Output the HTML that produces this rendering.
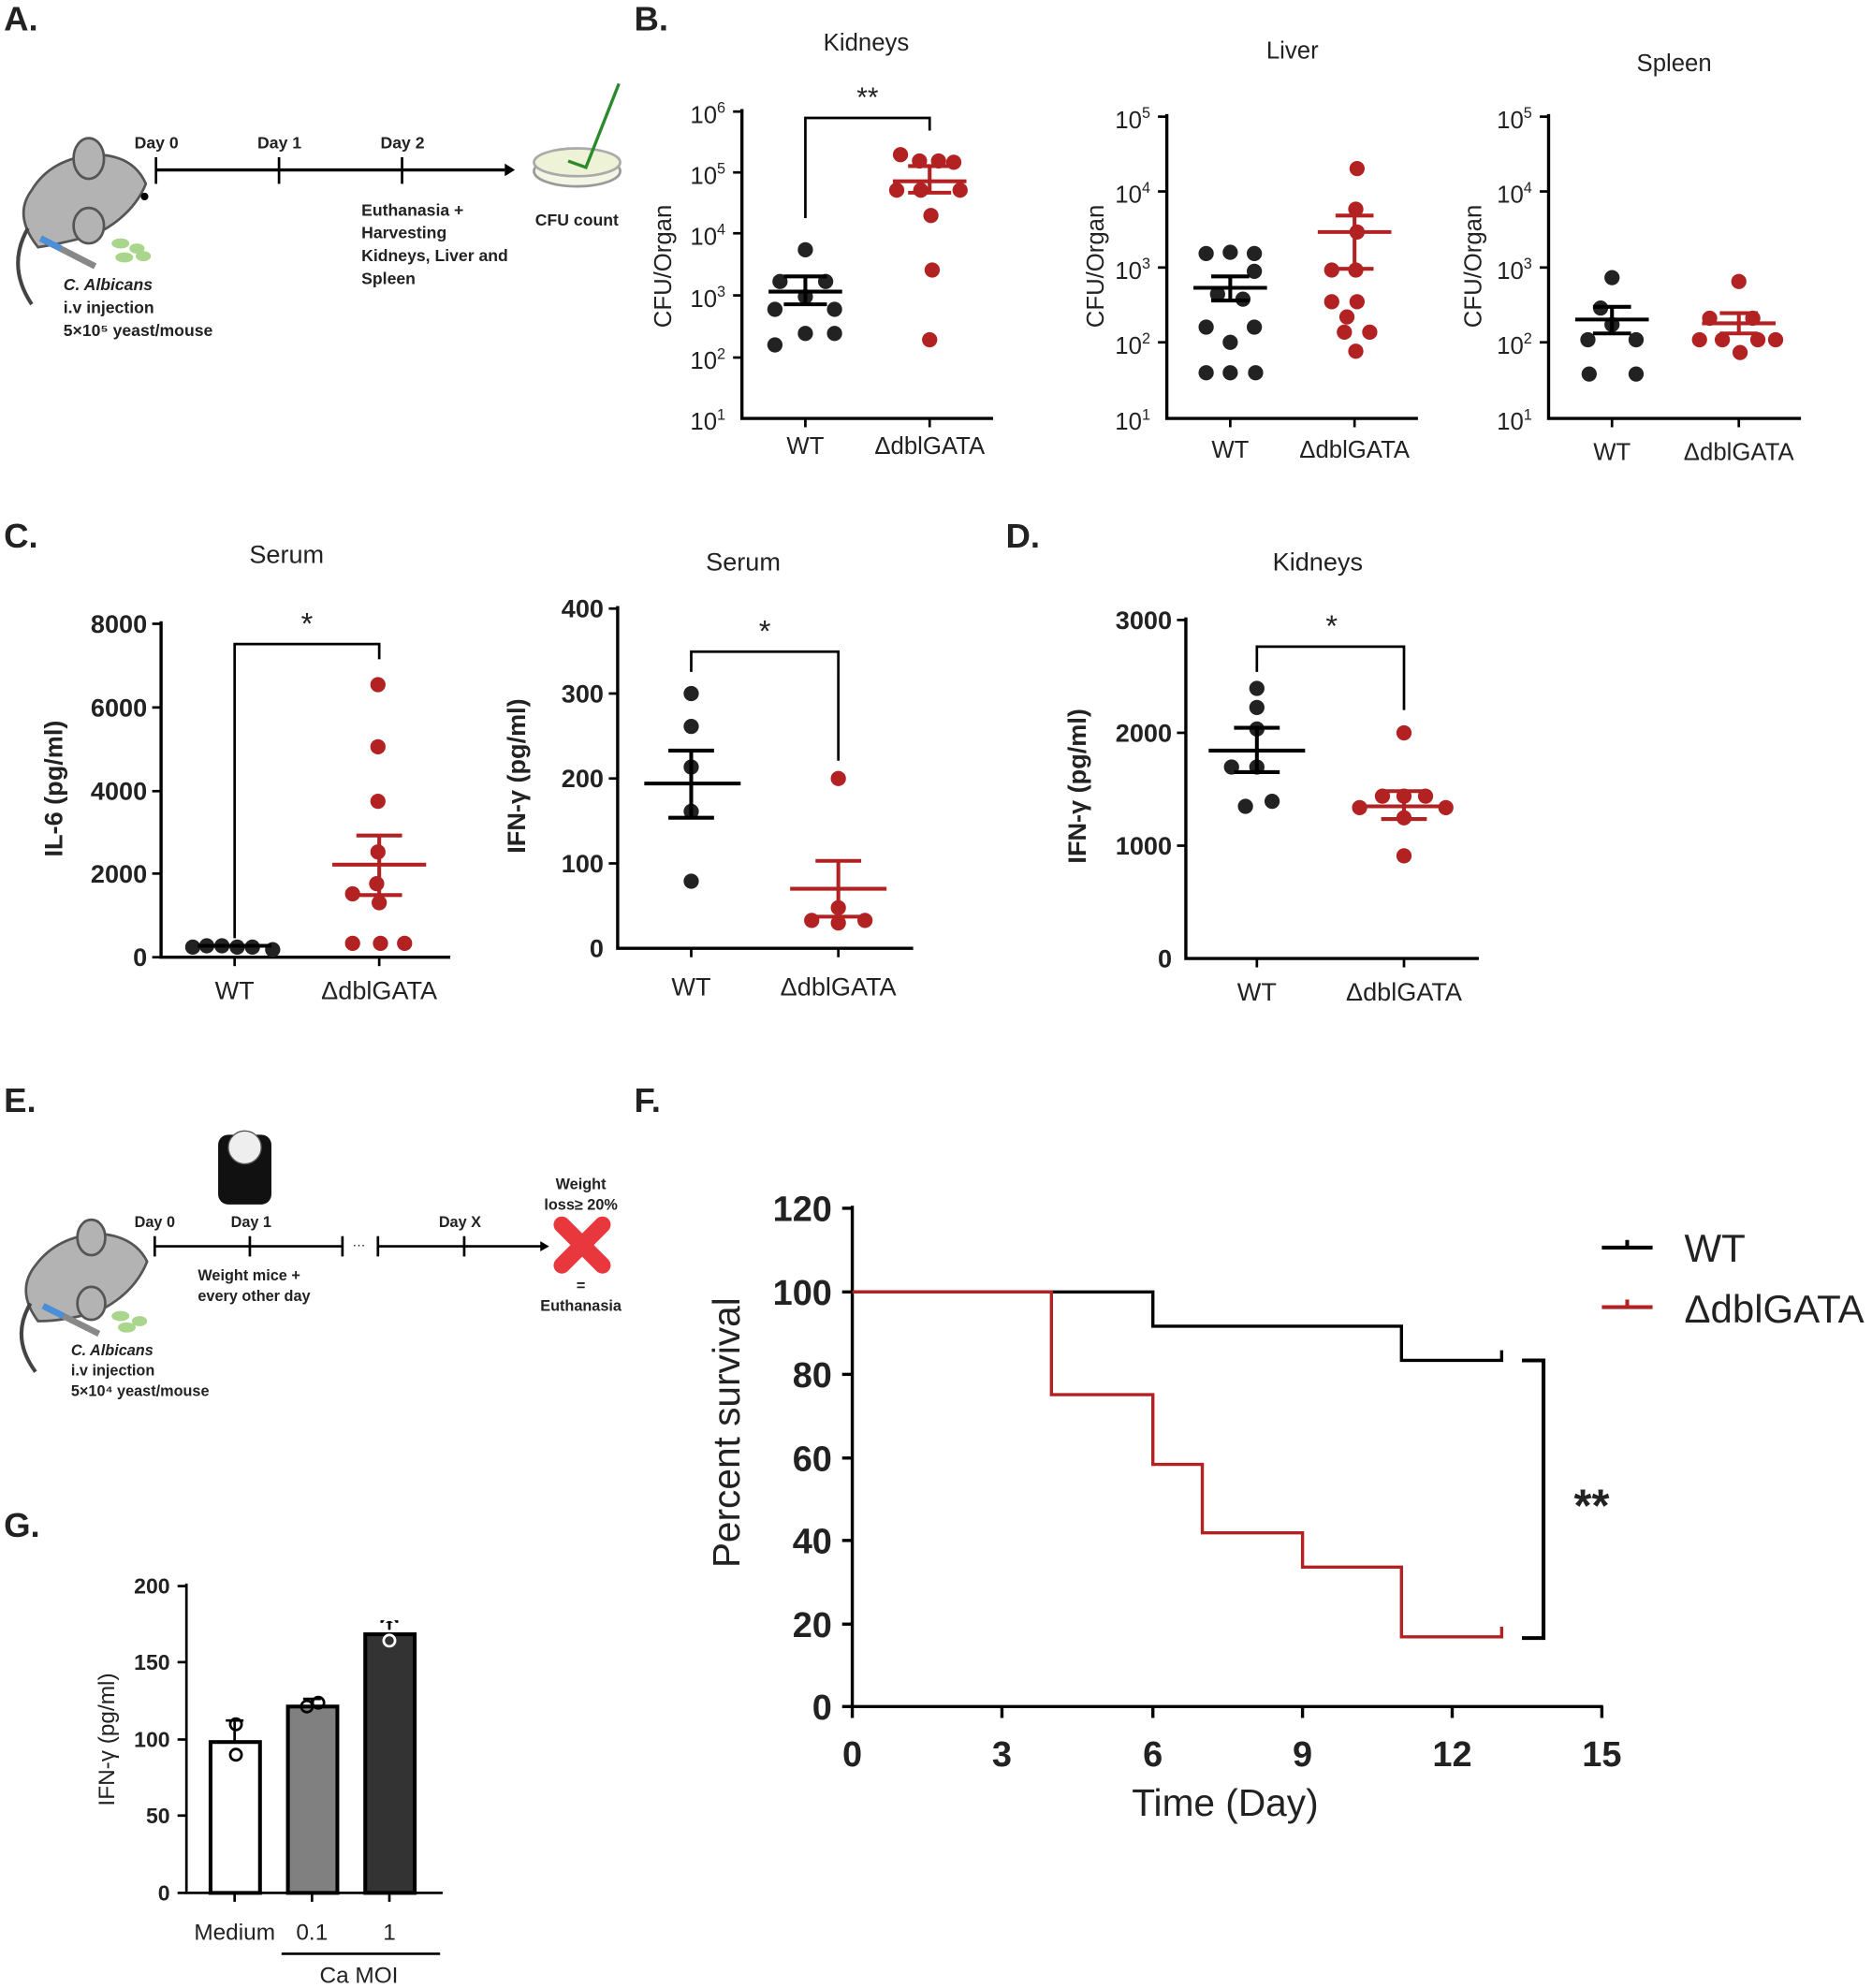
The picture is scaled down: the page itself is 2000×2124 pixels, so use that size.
<!DOCTYPE html>
<html><head><meta charset="utf-8"><style>html,body{margin:0;padding:0;background:#fff}svg{display:block}</style></head>
<body>
<svg width="2000" height="2124" viewBox="0 0 1476 1568" preserveAspectRatio="none" xmlns="http://www.w3.org/2000/svg" font-family="Liberation Sans, DejaVu Sans, sans-serif">
<defs>
<g id="d"><circle r="6"/></g>
</defs>
<g font-weight="bold" font-size="27" fill="#222">
<text x="3" y="24">A.</text><text x="500" y="24">B.</text><text x="3" y="432">C.</text><text x="793" y="432">D.</text>
<text x="3" y="877">E.</text><text x="500" y="877">F.</text><text x="3" y="1212">G.</text>
</g>

<!-- Panel A diagram -->
<g>
<path d="M30 195 Q10 170 25 150 Q40 125 75 122 Q105 122 115 145 Q105 170 75 185 Q50 192 30 195Z" fill="#b3b3b3" stroke="#555" stroke-width="2"/>
<ellipse cx="70" cy="125" rx="12" ry="16" fill="#b3b3b3" stroke="#555" stroke-width="2"/>
<ellipse cx="70" cy="178" rx="12" ry="14" fill="#b3b3b3" stroke="#555" stroke-width="2"/>
<circle cx="114" cy="155" r="3"/>
<path d="M22 180 Q5 210 25 240" stroke="#444" stroke-width="3" fill="none"/>
<line x1="32" y1="188" x2="75" y2="210" stroke="#888" stroke-width="5"/>
<line x1="32" y1="188" x2="48" y2="196" stroke="#4a8fd8" stroke-width="5"/>
<g fill="#a9d68c"><ellipse cx="95" cy="192" rx="7" ry="4"/><ellipse cx="108" cy="196" rx="6" ry="4"/><ellipse cx="98" cy="203" rx="7" ry="4"/><ellipse cx="113" cy="202" rx="6" ry="4"/></g>
<line x1="123" y1="134" x2="398" y2="134" stroke="#000" stroke-width="2.5"/>
<path d="M398 129 L406 134 L398 139Z"/>
<g stroke="#000" stroke-width="2"><line x1="123" y1="124" x2="123" y2="145"/><line x1="220" y1="124" x2="220" y2="145"/><line x1="317" y1="124" x2="317" y2="145"/></g>
<g font-size="13" font-weight="bold" fill="#222"><text x="106" y="117">Day 0</text><text x="203" y="117">Day 1</text><text x="300" y="117">Day 2</text>
<text x="285" y="170">Euthanasia +</text><text x="285" y="188">Harvesting</text><text x="285" y="206">Kidneys, Liver and</text><text x="285" y="224">Spleen</text>
<text x="422" y="178">CFU count</text>
<text x="50" y="229" font-style="italic">C. Albicans</text><text x="50" y="247">i.v injection</text><text x="50" y="265">5×10⁵ yeast/mouse</text></g>
<ellipse cx="455" cy="135" rx="34" ry="12" fill="#f3f6e4" stroke="#999" stroke-width="2"/>
<ellipse cx="455" cy="128" rx="34" ry="11" fill="#eef3d8" stroke="#aaa" stroke-width="2"/>
<path d="M488 66 L462 132 L448 127" stroke="#2c8a2c" stroke-width="2.5" fill="none"/>
</g>

<!-- Panel B Kidneys -->
<g font-size="19" fill="#222">
<text x="683" y="40" text-anchor="middle">Kidneys</text>
<path d="M585 86 V330 H783" stroke="#000" stroke-width="2.5" fill="none"/>
<g stroke="#000" stroke-width="2"><line x1="578" y1="88" x2="585" y2="88"/><line x1="578" y1="136" x2="585" y2="136"/><line x1="578" y1="184" x2="585" y2="184"/><line x1="578" y1="233" x2="585" y2="233"/><line x1="578" y1="282" x2="585" y2="282"/><line x1="635" y1="330" x2="635" y2="337"/><line x1="733" y1="330" x2="733" y2="337"/></g>
<g text-anchor="end"><text x="572" y="97">10<tspan dy="-8" font-size="12">6</tspan></text><text x="572" y="145">10<tspan dy="-8" font-size="12">5</tspan></text><text x="572" y="193">10<tspan dy="-8" font-size="12">4</tspan></text><text x="572" y="242">10<tspan dy="-8" font-size="12">3</tspan></text><text x="572" y="291">10<tspan dy="-8" font-size="12">2</tspan></text><text x="572" y="339">10<tspan dy="-8" font-size="12">1</tspan></text></g>
<text transform="translate(529,210) rotate(-90)" text-anchor="middle">CFU/Organ</text>
<text x="635" y="358" text-anchor="middle">WT</text><text x="733" y="358" text-anchor="middle">ΔdblGATA</text>
<path d="M635 172 V93 H733 V103" stroke="#000" stroke-width="2" fill="none"/>
<text x="684" y="84" text-anchor="middle" font-size="22">**</text>
<g><circle cx="635" cy="197" r="6"/><circle cx="615" cy="222" r="6"/><circle cx="651" cy="222" r="6"/><circle cx="635" cy="234" r="6"/><circle cx="611" cy="244" r="6"/><circle cx="658" cy="244" r="6"/><circle cx="611" cy="272" r="6"/><circle cx="635" cy="263" r="6"/><circle cx="658" cy="263" r="6"/></g>
<g stroke="#000" stroke-width="3"><line x1="606" y1="230" x2="664" y2="230"/><line x1="618" y1="218" x2="652" y2="218"/><line x1="618" y1="240" x2="652" y2="240"/><line x1="635" y1="218" x2="635" y2="240"/></g>
<g fill="#b22222"><circle cx="710" cy="122" r="6"/><circle cx="725" cy="127" r="6"/><circle cx="740" cy="127" r="6"/><circle cx="757" cy="150" r="6"/><circle cx="707" cy="150" r="6"/><circle cx="726" cy="150" r="6"/><circle cx="734" cy="170" r="6"/><circle cx="735" cy="213" r="6"/><circle cx="733" cy="268" r="6"/><circle cx="752" cy="128" r="6"/></g>
<g stroke="#b22222" stroke-width="3"><line x1="704" y1="143" x2="762" y2="143"/><line x1="716" y1="131" x2="750" y2="131"/><line x1="716" y1="152" x2="750" y2="152"/><line x1="733" y1="131" x2="733" y2="152"/></g>
</g>

<!-- Liver -->
<g font-size="19" fill="#222">
<text x="1019" y="46" text-anchor="middle">Liver</text>
<path d="M920 90 V330 H1118" stroke="#000" stroke-width="2.5" fill="none"/>
<g stroke="#000" stroke-width="2"><line x1="913" y1="92" x2="920" y2="92"/><line x1="913" y1="151" x2="920" y2="151"/><line x1="913" y1="211" x2="920" y2="211"/><line x1="913" y1="270" x2="920" y2="270"/><line x1="970" y1="330" x2="970" y2="337"/><line x1="1068" y1="330" x2="1068" y2="337"/></g>
<g text-anchor="end"><text x="907" y="101">10<tspan dy="-8" font-size="12">5</tspan></text><text x="907" y="160">10<tspan dy="-8" font-size="12">4</tspan></text><text x="907" y="220">10<tspan dy="-8" font-size="12">3</tspan></text><text x="907" y="279">10<tspan dy="-8" font-size="12">2</tspan></text><text x="907" y="339">10<tspan dy="-8" font-size="12">1</tspan></text></g>
<text transform="translate(870,210) rotate(-90)" text-anchor="middle">CFU/Organ</text>
<text x="970" y="361" text-anchor="middle">WT</text><text x="1068" y="361" text-anchor="middle">ΔdblGATA</text>
<g><circle cx="951" cy="200" r="6"/><circle cx="970" cy="199" r="6"/><circle cx="989" cy="200" r="6"/><circle cx="960" cy="232" r="6"/><circle cx="980" cy="236" r="6"/><circle cx="989" cy="214" r="6"/><circle cx="951" cy="258" r="6"/><circle cx="989" cy="258" r="6"/><circle cx="970" cy="270" r="6"/><circle cx="951" cy="294" r="6"/><circle cx="970" cy="294" r="6"/><circle cx="990" cy="294" r="6"/></g>
<g stroke="#000" stroke-width="3"><line x1="941" y1="227" x2="999" y2="227"/><line x1="955" y1="218" x2="985" y2="218"/><line x1="955" y1="237" x2="985" y2="237"/><line x1="970" y1="218" x2="970" y2="237"/></g>
<g fill="#b22222"><circle cx="1070" cy="133" r="6"/><circle cx="1069" cy="165" r="6"/><circle cx="1070" cy="183" r="6"/><circle cx="1050" cy="213" r="6"/><circle cx="1069" cy="213" r="6"/><circle cx="1050" cy="238" r="6"/><circle cx="1070" cy="238" r="6"/><circle cx="1062" cy="250" r="6"/><circle cx="1060" cy="262" r="6"/><circle cx="1080" cy="262" r="6"/><circle cx="1069" cy="277" r="6"/></g>
<g stroke="#b22222" stroke-width="3"><line x1="1039" y1="183" x2="1097" y2="183"/><line x1="1053" y1="170" x2="1083" y2="170"/><line x1="1053" y1="212" x2="1083" y2="212"/><line x1="1068" y1="170" x2="1068" y2="212"/></g>
</g>

<!-- Spleen -->
<g font-size="19" fill="#222">
<text x="1320" y="56" text-anchor="middle">Spleen</text>
<path d="M1221 90 V330 H1420" stroke="#000" stroke-width="2.5" fill="none"/>
<g stroke="#000" stroke-width="2"><line x1="1214" y1="92" x2="1221" y2="92"/><line x1="1214" y1="151" x2="1221" y2="151"/><line x1="1214" y1="211" x2="1221" y2="211"/><line x1="1214" y1="270" x2="1221" y2="270"/><line x1="1271" y1="330" x2="1271" y2="337"/><line x1="1371" y1="330" x2="1371" y2="337"/></g>
<g text-anchor="end"><text x="1208" y="101">10<tspan dy="-8" font-size="12">5</tspan></text><text x="1208" y="160">10<tspan dy="-8" font-size="12">4</tspan></text><text x="1208" y="220">10<tspan dy="-8" font-size="12">3</tspan></text><text x="1208" y="279">10<tspan dy="-8" font-size="12">2</tspan></text><text x="1208" y="339">10<tspan dy="-8" font-size="12">1</tspan></text></g>
<text transform="translate(1168,210) rotate(-90)" text-anchor="middle">CFU/Organ</text>
<text x="1271" y="363" text-anchor="middle">WT</text><text x="1371" y="363" text-anchor="middle">ΔdblGATA</text>
<g><circle cx="1271" cy="219" r="6"/><circle cx="1262" cy="243" r="6"/><circle cx="1271" cy="256" r="6"/><circle cx="1252" cy="268" r="6"/><circle cx="1290" cy="268" r="6"/><circle cx="1253" cy="295" r="6"/><circle cx="1290" cy="295" r="6"/></g>
<g stroke="#000" stroke-width="3"><line x1="1242" y1="252" x2="1300" y2="252"/><line x1="1256" y1="242" x2="1286" y2="242"/><line x1="1256" y1="263" x2="1286" y2="263"/><line x1="1271" y1="242" x2="1271" y2="263"/></g>
<g fill="#b22222"><circle cx="1371" cy="222" r="6"/><circle cx="1348" cy="251" r="6"/><circle cx="1382" cy="251" r="6"/><circle cx="1340" cy="268" r="6"/><circle cx="1358" cy="268" r="6"/><circle cx="1386" cy="268" r="6"/><circle cx="1400" cy="268" r="6"/><circle cx="1372" cy="278" r="6"/></g>
<g stroke="#b22222" stroke-width="3"><line x1="1342" y1="255" x2="1400" y2="255"/><line x1="1356" y1="247" x2="1386" y2="247"/><line x1="1356" y1="263" x2="1386" y2="263"/><line x1="1371" y1="247" x2="1371" y2="263"/></g>
</g>

<!-- C IL-6 -->
<g font-size="20" fill="#222">
<text x="226" y="444" text-anchor="middle">Serum</text>
<path d="M127 490 V755 H355" stroke="#000" stroke-width="2.5" fill="none"/>
<g stroke="#000" stroke-width="2"><line x1="120" y1="492" x2="127" y2="492"/><line x1="120" y1="558" x2="127" y2="558"/><line x1="120" y1="624" x2="127" y2="624"/><line x1="120" y1="689" x2="127" y2="689"/><line x1="120" y1="755" x2="127" y2="755"/><line x1="185" y1="755" x2="185" y2="762"/><line x1="299" y1="755" x2="299" y2="762"/></g>
<g text-anchor="end" font-weight="bold"><text x="116" y="499">8000</text><text x="116" y="565">6000</text><text x="116" y="631">4000</text><text x="116" y="696">2000</text><text x="116" y="762">0</text></g>
<text transform="translate(49,622) rotate(-90)" text-anchor="middle" font-weight="bold">IL-6 (pg/ml)</text>
<text x="185" y="788" text-anchor="middle">WT</text><text x="299" y="788" text-anchor="middle">ΔdblGATA</text>
<path d="M185 740 V508 H299 V520" stroke="#000" stroke-width="2" fill="none"/>
<text x="242" y="500" text-anchor="middle" font-size="24">*</text>
<g><circle cx="152" cy="747" r="6"/><circle cx="163" cy="746" r="6"/><circle cx="175" cy="746" r="6"/><circle cx="187" cy="747" r="6"/><circle cx="199" cy="747" r="6"/><circle cx="215" cy="749" r="6"/></g>
<line x1="156" y1="746" x2="214" y2="746" stroke="#000" stroke-width="3"/>
<g fill="#b22222"><circle cx="298" cy="540" r="6"/><circle cx="298" cy="589" r="6"/><circle cx="298" cy="632" r="6"/><circle cx="298" cy="672" r="6"/><circle cx="297" cy="697" r="6"/><circle cx="278" cy="705" r="6"/><circle cx="299" cy="712" r="6"/><circle cx="278" cy="744" r="6"/><circle cx="300" cy="744" r="6"/><circle cx="319" cy="744" r="6"/></g>
<g stroke="#b22222" stroke-width="3"><line x1="262" y1="682" x2="336" y2="682"/><line x1="281" y1="659" x2="317" y2="659"/><line x1="281" y1="706" x2="317" y2="706"/><line x1="299" y1="659" x2="299" y2="706"/></g>
</g>

<!-- C IFN serum -->
<g font-size="20" fill="#222">
<text x="586" y="450" text-anchor="middle">Serum</text>
<path d="M487 478 V748 H720" stroke="#000" stroke-width="2.5" fill="none"/>
<g stroke="#000" stroke-width="2"><line x1="480" y1="480" x2="487" y2="480"/><line x1="480" y1="547" x2="487" y2="547"/><line x1="480" y1="614" x2="487" y2="614"/><line x1="480" y1="681" x2="487" y2="681"/><line x1="545" y1="748" x2="545" y2="755"/><line x1="661" y1="748" x2="661" y2="755"/></g>
<g text-anchor="end" font-weight="bold"><text x="476" y="487">400</text><text x="476" y="554">300</text><text x="476" y="621">200</text><text x="476" y="688">100</text><text x="476" y="755">0</text></g>
<text transform="translate(414,612) rotate(-90)" text-anchor="middle" font-weight="bold">IFN-γ (pg/ml)</text>
<text x="545" y="785" text-anchor="middle">WT</text><text x="661" y="785" text-anchor="middle">ΔdblGATA</text>
<path d="M545 530 V514 H661 V600" stroke="#000" stroke-width="2" fill="none"/>
<text x="603" y="506" text-anchor="middle" font-size="24">*</text>
<g><circle cx="545" cy="547" r="6"/><circle cx="545" cy="573" r="6"/><circle cx="545" cy="605" r="6"/><circle cx="545" cy="640" r="6"/><circle cx="545" cy="695" r="6"/></g>
<g stroke="#000" stroke-width="3"><line x1="508" y1="618" x2="584" y2="618"/><line x1="527" y1="592" x2="563" y2="592"/><line x1="527" y1="645" x2="563" y2="645"/><line x1="545" y1="592" x2="545" y2="645"/></g>
<g fill="#b22222"><circle cx="661" cy="614" r="6"/><circle cx="640" cy="726" r="6"/><circle cx="661" cy="716" r="6"/><circle cx="682" cy="726" r="6"/><circle cx="661" cy="728" r="6"/></g>
<g stroke="#b22222" stroke-width="3"><line x1="623" y1="701" x2="699" y2="701"/><line x1="643" y1="679" x2="679" y2="679"/><line x1="643" y1="723" x2="679" y2="723"/><line x1="661" y1="679" x2="661" y2="723"/></g>
</g>

<!-- D -->
<g font-size="20" fill="#222">
<text x="1039" y="450" text-anchor="middle">Kidneys</text>
<path d="M935 487 V756 H1166" stroke="#000" stroke-width="2.5" fill="none"/>
<g stroke="#000" stroke-width="2"><line x1="928" y1="489" x2="935" y2="489"/><line x1="928" y1="578" x2="935" y2="578"/><line x1="928" y1="667" x2="935" y2="667"/><line x1="991" y1="756" x2="991" y2="763"/><line x1="1107" y1="756" x2="1107" y2="763"/></g>
<g text-anchor="end" font-weight="bold"><text x="924" y="496">3000</text><text x="924" y="585">2000</text><text x="924" y="674">1000</text><text x="924" y="763">0</text></g>
<text transform="translate(856,620) rotate(-90)" text-anchor="middle" font-weight="bold">IFN-γ (pg/ml)</text>
<text x="991" y="789" text-anchor="middle">WT</text><text x="1107" y="789" text-anchor="middle">ΔdblGATA</text>
<path d="M991 530 V510 H1107 V560" stroke="#000" stroke-width="2" fill="none"/>
<text x="1050" y="502" text-anchor="middle" font-size="24">*</text>
<g><circle cx="991" cy="543" r="6"/><circle cx="991" cy="558" r="6"/><circle cx="971" cy="605" r="6"/><circle cx="991" cy="605" r="6"/><circle cx="982" cy="636" r="6"/><circle cx="1003" cy="632" r="6"/><circle cx="991" cy="575" r="6"/></g>
<g stroke="#000" stroke-width="3"><line x1="953" y1="592" x2="1029" y2="592"/><line x1="973" y1="574" x2="1009" y2="574"/><line x1="973" y1="609" x2="1009" y2="609"/><line x1="991" y1="574" x2="991" y2="609"/></g>
<g fill="#b22222"><circle cx="1107" cy="578" r="6"/><circle cx="1090" cy="628" r="6"/><circle cx="1107" cy="628" r="6"/><circle cx="1124" cy="628" r="6"/><circle cx="1072" cy="637" r="6"/><circle cx="1140" cy="637" r="6"/><circle cx="1107" cy="645" r="6"/><circle cx="1107" cy="675" r="6"/></g>
<g stroke="#b22222" stroke-width="3"><line x1="1069" y1="636" x2="1145" y2="636"/><line x1="1089" y1="624" x2="1125" y2="624"/><line x1="1089" y1="646" x2="1125" y2="646"/><line x1="1107" y1="624" x2="1107" y2="646"/></g>
</g>

<!-- E diagram -->
<g>
<path d="M30 1042 Q12 1018 28 998 Q45 975 78 973 Q106 975 116 995 Q106 1020 78 1034 Q52 1042 30 1042Z" fill="#b3b3b3" stroke="#555" stroke-width="2"/>
<ellipse cx="72" cy="976" rx="11" ry="14" fill="#b3b3b3" stroke="#555" stroke-width="2"/>
<ellipse cx="72" cy="1028" rx="11" ry="13" fill="#b3b3b3" stroke="#555" stroke-width="2"/>
<path d="M24 1028 Q8 1055 28 1082" stroke="#444" stroke-width="3" fill="none"/>
<line x1="34" y1="1030" x2="78" y2="1052" stroke="#888" stroke-width="5"/>
<line x1="34" y1="1030" x2="50" y2="1038" stroke="#4a8fd8" stroke-width="5"/>
<g fill="#a9d68c"><ellipse cx="95" cy="1038" rx="7" ry="4"/><ellipse cx="110" cy="1042" rx="6" ry="4"/><ellipse cx="100" cy="1047" rx="7" ry="4"/></g>
<line x1="122" y1="983" x2="270" y2="983" stroke="#000" stroke-width="2"/>
<line x1="298" y1="983" x2="428" y2="983" stroke="#000" stroke-width="2"/>
<path d="M426 979 L433 983 L426 987Z"/>
<g stroke="#000" stroke-width="2"><line x1="122" y1="975" x2="122" y2="991"/><line x1="197" y1="975" x2="197" y2="991"/><line x1="270" y1="975" x2="270" y2="991"/><line x1="298" y1="975" x2="298" y2="991"/><line x1="366" y1="975" x2="366" y2="991"/></g>
<text x="278" y="985" font-size="10">···</text>
<rect x="172" y="895" width="42" height="55" rx="8" fill="#111"/>
<circle cx="193" cy="905" r="13" fill="#eee" stroke="#555"/>
<g font-size="12" font-weight="bold" fill="#222"><text x="106" y="968">Day 0</text><text x="182" y="968">Day 1</text><text x="346" y="968">Day X</text>
<text x="156" y="1010">Weight mice +</text><text x="156" y="1026">every other day</text>
<text x="458" y="938" text-anchor="middle">Weight</text><text x="458" y="954" text-anchor="middle">loss≥ 20%</text>
<text x="458" y="1018" text-anchor="middle">=</text><text x="458" y="1034" text-anchor="middle">Euthanasia</text>
<text x="56" y="1069" font-style="italic">C. Albicans</text><text x="56" y="1085">i.v injection</text><text x="56" y="1101">5×10⁴ yeast/mouse</text></g>
<g stroke="#e8383d" stroke-width="13" stroke-linecap="round"><line x1="443" y1="966" x2="475" y2="998"/><line x1="475" y1="966" x2="443" y2="998"/></g>
</g>

<!-- F survival -->
<g fill="#222">
<path d="M672 951 V1346 H1264" stroke="#000" stroke-width="2.5" fill="none"/>
<g stroke="#000" stroke-width="2.5">
<line x1="664" y1="953" x2="672" y2="953"/><line x1="664" y1="1019" x2="672" y2="1019"/><line x1="664" y1="1084" x2="672" y2="1084"/><line x1="664" y1="1150" x2="672" y2="1150"/><line x1="664" y1="1215" x2="672" y2="1215"/><line x1="664" y1="1281" x2="672" y2="1281"/><line x1="664" y1="1346" x2="672" y2="1346"/>
<line x1="672" y1="1346" x2="672" y2="1355"/><line x1="790" y1="1346" x2="790" y2="1355"/><line x1="909" y1="1346" x2="909" y2="1355"/><line x1="1027" y1="1346" x2="1027" y2="1355"/><line x1="1145" y1="1346" x2="1145" y2="1355"/><line x1="1263" y1="1346" x2="1263" y2="1355"/></g>
<g font-size="28" font-weight="bold" text-anchor="end"><text x="656" y="963">120</text><text x="656" y="1029">100</text><text x="656" y="1094">80</text><text x="656" y="1160">60</text><text x="656" y="1225">40</text><text x="656" y="1291">20</text><text x="656" y="1356">0</text></g>
<g font-size="28" font-weight="bold" text-anchor="middle"><text x="672" y="1393">0</text><text x="790" y="1393">3</text><text x="909" y="1393">6</text><text x="1027" y="1393">9</text><text x="1145" y="1393">12</text><text x="1263" y="1393">15</text></g>
<text x="966" y="1432" font-size="30" text-anchor="middle">Time (Day)</text>
<text transform="translate(583,1130) rotate(-90)" font-size="30" text-anchor="middle">Percent survival</text>
<path d="M672 1019 H909 V1046 H1105 V1073 H1184 V1065" stroke="#000" stroke-width="2.5" fill="none"/>
<path d="M672 1019 H829 V1100 H909 V1155 H948 V1209 H1027 V1236 H1105 V1291 H1184 V1283" stroke="#b22222" stroke-width="2.5" fill="none"/>
<path d="M1200 1073 H1217 V1292 H1200" stroke="#000" stroke-width="3" fill="none"/>
<text x="1255" y="1200" font-size="36" font-weight="bold" text-anchor="middle">**</text>
<line x1="1263" y1="984" x2="1303" y2="984" stroke="#000" stroke-width="3"/><line x1="1283" y1="978" x2="1283" y2="984" stroke="#000" stroke-width="3"/>
<line x1="1263" y1="1031" x2="1303" y2="1031" stroke="#b22222" stroke-width="3"/><line x1="1283" y1="1025" x2="1283" y2="1031" stroke="#b22222" stroke-width="3"/>
<text x="1328" y="995" font-size="31">WT</text><text x="1328" y="1043" font-size="31">ΔdblGATA</text>
</g>

<!-- G bars -->
<g font-size="18" fill="#222">
<path d="M147 1249 V1493 H349" stroke="#000" stroke-width="2" fill="none"/>
<g stroke="#000" stroke-width="2"><line x1="140" y1="1251" x2="147" y2="1251"/><line x1="140" y1="1311" x2="147" y2="1311"/><line x1="140" y1="1372" x2="147" y2="1372"/><line x1="140" y1="1432" x2="147" y2="1432"/><line x1="140" y1="1493" x2="147" y2="1493"/>
<line x1="185" y1="1493" x2="185" y2="1500"/><line x1="246" y1="1493" x2="246" y2="1500"/><line x1="307" y1="1493" x2="307" y2="1500"/></g>
<g text-anchor="end" font-weight="bold" font-size="17"><text x="134" y="1257">200</text><text x="134" y="1317">150</text><text x="134" y="1378">100</text><text x="134" y="1438">50</text><text x="134" y="1499">0</text></g>
<text transform="translate(90,1372) rotate(-90)" text-anchor="middle">IFN-γ (pg/ml)</text>
<rect x="166" y="1374" width="39" height="119" fill="#fff" stroke="#000" stroke-width="3"/>
<rect x="227" y="1346" width="39" height="147" fill="#808080" stroke="#000" stroke-width="3"/>
<rect x="288" y="1289" width="39" height="204" fill="#333" stroke="#000" stroke-width="3"/>
<g stroke="#000" stroke-width="2" fill="none"><path d="M178 1357 H192 M185 1357 V1374"/><circle cx="186" cy="1360" r="4.5"/><circle cx="186" cy="1384" r="4.5"/>
<path d="M239 1340 H253 M246 1340 V1346"/><circle cx="242" cy="1346" r="4.5"/><circle cx="251" cy="1343" r="4.5"/>
<path d="M300 1279 H314 M307 1279 V1289"/><circle cx="307" cy="1282" r="4.5" stroke="#fff"/><circle cx="307" cy="1294" r="4.5" stroke="#fff"/></g>
<text x="185" y="1530" text-anchor="middle">Medium</text><text x="246" y="1530" text-anchor="middle">0.1</text><text x="307" y="1530" text-anchor="middle">1</text>
<line x1="222" y1="1541" x2="347" y2="1541" stroke="#000" stroke-width="2"/>
<text x="283" y="1564" text-anchor="middle">Ca MOI</text>
</g>
</svg>
</body></html>
